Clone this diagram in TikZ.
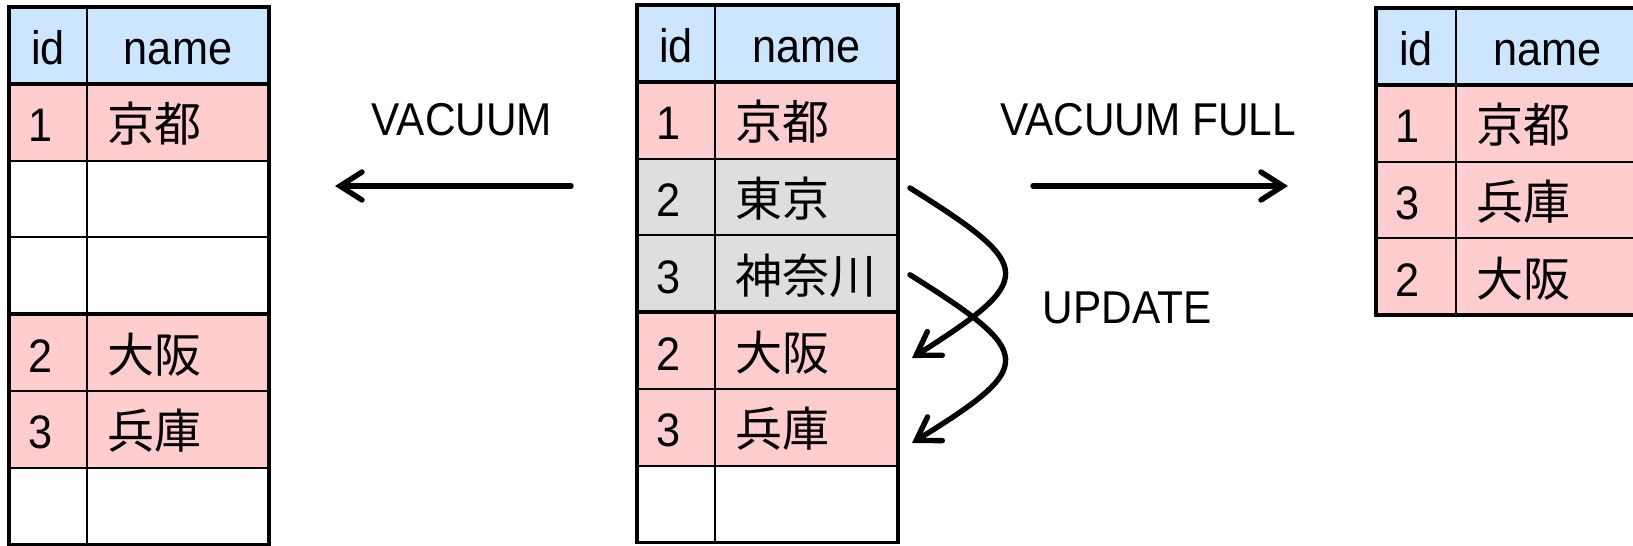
\documentclass[tikz,border=0pt]{standalone}
\usepackage{fontspec}
\setmainfont[FakeStretch=0.92]{Liberation Sans}
\newfontfamily\jpfont{Noto Sans CJK JP}
\usetikzlibrary{arrows.meta}
\definecolor{hdblue}{RGB}{205,230,255}
\definecolor{rowpink}{RGB}{255,205,205}
\definecolor{rowgray}{RGB}{222,222,222}
\tikzset{
 cell/.style={draw, line width=1pt, outer sep=0pt, minimum height=38.4pt, inner ysep=0pt, text height=19.5pt, text depth=0pt, font=\fontsize{23.5}{27}\selectfont},
 idcell/.style={cell, minimum width=39pt, inner xsep=9.5pt, text width=20pt, align=left},
 namecell/.style={cell, minimum width=91.5pt, inner xsep=10pt, text width=71.5pt, align=left},
 hdcell/.style={cell, fill=hdblue, inner xsep=0pt, align=center},
 frame/.style={line width=1.8pt},
 lbl/.style={font=\fontsize{23}{27}\selectfont},
 move/.style={line width=2.7pt, line cap=round, -{Straight Barb[length=11pt, width=14pt, line cap=round]}}
}

\begin{document}
\begin{tikzpicture}[x=0.5pt, y=-0.5pt]
 	\useasboundingbox (0,0) rectangle (1633,546);
 	\node[hdcell, minimum width=39pt, anchor=north west] (Li0) at (9,7) {id};
 	\node[hdcell, minimum width=91pt, anchor=west] (Ln0) at (Li0.east) {name};
 	\foreach \r/\k/\s/\c in {1/1/京都/rowpink, 2/{}/{}/white, 3/{}/{}/white, 4/2/大阪/rowpink, 5/3/兵庫/rowpink, 6/{}/{}/white}{
 	 \node[idcell, fill=\c, anchor=north west] (Li\r) at (9,{7+76.8*\r}) {\k};
 	 \node[namecell, fill=\c, minimum width=91pt, text width=71pt, anchor=west] (Ln\r) at (Li\r.east) {\jpfont\s};
 	}
 	\draw[frame] (Li0.north west) rectangle (Ln6.south east);
 	\draw[frame] (Li0.south west) -- (Ln0.south east);
 	\draw[frame] (Li4.north west) -- (Ln4.north east);

 	\node[hdcell, minimum width=39pt, anchor=north west] (Mi0) at (637,5) {id};
 	\node[hdcell, minimum width=91.5pt, anchor=west] (Mn0) at (Mi0.east) {name};
 	\foreach \r/\k/\s/\c in {1/1/京都/rowpink, 2/2/東京/rowgray, 3/3/神奈川/rowgray, 4/2/大阪/rowpink, 5/3/兵庫/rowpink, 6/{}/{}/white}{
 	 \node[idcell, fill=\c, anchor=north west] (Mi\r) at (637,{5+76.8*\r}) {\k};
 	 \node[namecell, fill=\c, anchor=west] (Mn\r) at (Mi\r.east) {\jpfont\s};
 	}
 	\draw[frame] (Mi0.north west) rectangle (Mn6.south east);
 	\draw[frame] (Mi0.south west) -- (Mn0.south east);
 	\draw[frame] (Mi4.north west) -- (Mn4.north east);

 	\node[hdcell, minimum width=40pt, anchor=north west] (Ri0) at (1376,8) {id};
 	\node[hdcell, minimum width=91.5pt, anchor=west] (Rn0) at (Ri0.east) {name};
 	\foreach \r/\k/\s in {1/1/京都, 2/3/兵庫, 3/2/大阪}{
 	 \node[idcell, fill=rowpink, minimum width=40pt, text width=21pt, anchor=north west] (Ri\r) at (1376,{8+76.8*\r}) {\k};
 	 \node[namecell, fill=rowpink, anchor=west] (Rn\r) at (Ri\r.east) {\jpfont\s};
 	}
 	\draw[frame] (Ri0.north west) rectangle (Rn3.south east);
 	\draw[frame] (Ri0.south west) -- (Rn0.south east);

 	\node[lbl] (vac) at (462,120) {VACUUM};
 	\node[lbl] (vacfull) at (1148,120) {VACUUM FULL};
 	\node[lbl] (upd) at (1127,308) {UPDATE};
 	\coordinate (vacS) at (571,186);
 	\coordinate (vacE) at (335,186);
 	\coordinate (fullS) at (1033,186);
 	\coordinate (fullE) at (1288,186);
 	\draw[move] (vacS) -- (vacE);
 	\draw[move] (fullS) -- (fullE);
 	\draw[move] ([shift={(12,-9)}]Mn2.east) .. controls +(126,79) and +(124,-79) .. ([shift={(14,7.4)}]Mn4.east);
 	\draw[move] ([shift={(12,1)}]Mn3.east) .. controls +(126,79) and +(124,-77) .. ([shift={(14,15.6)}]Mn5.east);
\end{tikzpicture}
\end{document}
